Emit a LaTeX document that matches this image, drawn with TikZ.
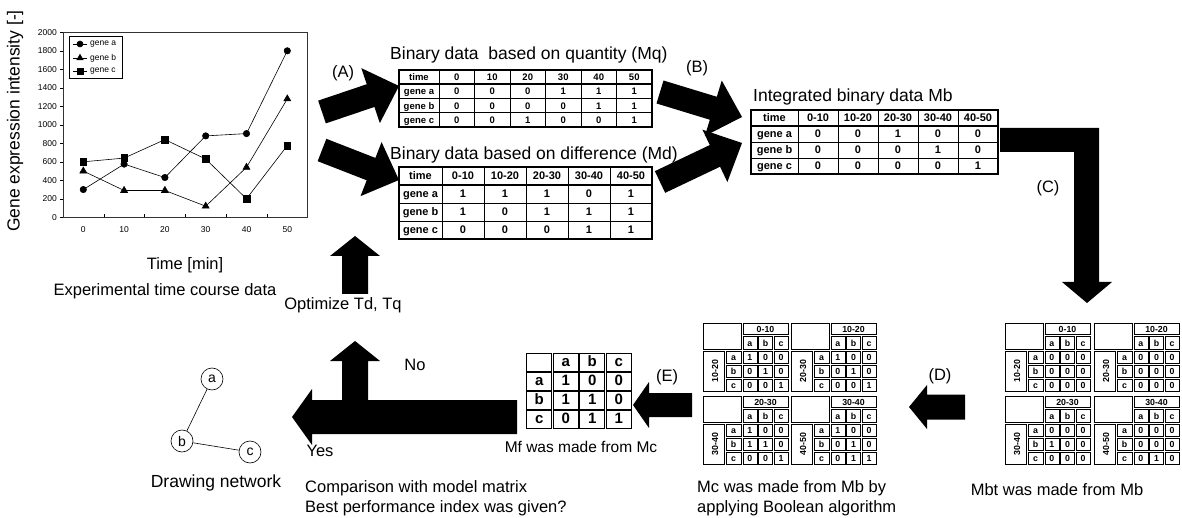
\documentclass[tikz,border=0pt]{standalone}
\usepackage{fontspec}
\setmainfont{Liberation Sans}
\usetikzlibrary{calc,plotmarks}
\tikzset{
  txt/.style={font=\fontsize{16.5}{20}\selectfont, inner sep=0pt},
  ttl/.style={font=\fontsize{17.5}{21}\selectfont, inner sep=0pt},
  tick/.style={font=\fontsize{8.5}{10}\selectfont, inner sep=0pt},
  plotline/.style={line width=0.6pt, black},
  tline/.style={line width=0.7pt},
  tframe/.style={line width=1.3pt},
  cellt/.style={inner sep=0pt, text height=0.72em, text depth=0pt},
  sc/.style={draw, line width=0.6pt},
  st/.style={font=\fontsize{8.8}{10}\selectfont\bfseries, inner sep=0pt, text height=0.72em, text depth=0pt},
  fc/.style={draw, line width=1.1pt},
  ft/.style={font=\fontsize{15}{17}\selectfont\bfseries, inner sep=0pt, text height=0.72em, text depth=0pt},
  gnode/.style={circle, draw, line width=0.6pt, minimum size=22pt, inner sep=0pt, font=\fontsize{14}{16}\selectfont},
}
% fat arrow: #1 name, #2 tail, #3 tip, #4 shaft half width, #5 head half width, #6 head length
\newcommand\fatarrow[6]{%
  \coordinate (#1-b) at ($(#3)!#6!(#2)$);
  \fill ($(#2)!#4!90:(#3)$) -- ($(#1-b)!#4!-90:(#2)$) -- ($(#1-b)!#5!-90:(#2)$) -- (#3)
     -- ($(#1-b)!#5!90:(#2)$) -- ($(#1-b)!#4!90:(#2)$) -- ($(#2)!#4!-90:(#3)$) -- cycle;
}
% binary table: #1 name, #2 x0, #3 y0, #4 first col w, #5 col w, #6 row h, #7 header list, #8 rows, #9 ncols
\newcommand\bintab[9]{%
  \begin{scope}[shift={(#2,#3)}]
    \draw[tframe] (0,0) rectangle ({#4+#5*#9},{4*#6});
    \draw[line width=1.6pt] (0,#6) -- ({#4+#5*#9},#6);
    \draw[tline] (0,{2*#6}) -- ({#4+#5*#9},{2*#6}) (0,{3*#6}) -- ({#4+#5*#9},{3*#6});
    \node[cellt] (#1-ht) at ({#4/2},{#6/2}) {time};
    \foreach \v [count=\k from 0] in {#7} {
      \draw[tline] ({#4+#5*\k},0) -- ({#4+#5*\k},{4*#6});
      \node[cellt] (#1-h\k) at ({#4+#5*\k+#5/2},{#6/2}) {\v};
    }
    \foreach \g/\vals [count=\r] in {#8} {
      \node[cellt] (#1-g\r) at ({#4/2},{#6*\r+#6/2}) {gene \g};
      \foreach \v [count=\k from 0] in \vals {
        \node[cellt] (#1-\r-\k) at ({#4+#5*\k+#5/2},{#6*\r+#6/2}) {\v};
      }
    }
  \end{scope}}
% sub table: #1 name, #2 x0, #3 y0, #4 col head, #5 row head, #6-#8 rows
\newcommand\subtab[8]{%
  \begin{scope}[shift={(#2,#3)}]
    \draw[sc] (0.8,0.8) rectangle (39.2,27.2);
    \draw[sc] (40.8,0.8) rectangle (86.2,12.2);
    \node[st] (#1-ch) at (63.5,6.5) {#4};
    \draw[sc] (0.8,28.8) rectangle (22.2,69.2);
    \node[st, rotate=90] (#1-rh) at (12.5,49) {#5};
    \foreach \l [count=\k from 0] in {a,b,c} {
      \draw[sc] ({40+15.667*\k+0.8},13.8) rectangle ({55.667+15.667*\k-0.8},27.2);
      \node[st] (#1-c\k) at ({47.83+15.667*\k},20.5) {\l};
      \draw[sc] (23.8,{28+14*\k+0.8}) rectangle (39.2,{42+14*\k-0.8});
      \node[st] (#1-r\k) at (31.5,{35+14*\k}) {\l};
    }
    \foreach \vals [count=\r from 0] in {{#6},{#7},{#8}} {
      \foreach \v [count=\k from 0] in \vals {
        \draw[sc] ({40+15.667*\k+0.8},{28+14*\r+0.8}) rectangle ({55.667+15.667*\k-0.8},{42+14*\r-0.8});
        \node[st] (#1-\r-\k) at ({47.83+15.667*\k},{35+14*\r}) {\v};
      }
    }
  \end{scope}}
\begin{document}
\begin{tikzpicture}[x=1pt,y=-1pt]
\useasboundingbox[fill=white] (0,0) rectangle (1182,518);

% ---------------- chart ----------------
\draw[line width=0.6pt, black!80] (63,32) rectangle (307,217.3);
\foreach \v [count=\i from 0] in {0,200,...,2000} {
  \node[tick, anchor=east] (yt\i) at (57,{217.3-0.0925*\v}) {\v};
  \draw[line width=0.5pt] (60,{217.3-0.0925*\v}) -- (63,{217.3-0.0925*\v});
}
\foreach \v [count=\i from 0] in {0,10,...,50} {
  \node[tick] (xt\i) at ({83.3+40.8*\i},230) {\v};
}
\foreach \i in {1,...,5} {\draw[line width=0.5pt] ({63+40.8*\i},217.3) -- ({63+40.8*\i},214);}
\draw[plotline] plot[mark=*, mark size=3.2pt] coordinates {(83.3,189.55) (124.1,164.11) (164.9,177.53) (205.7,135.9) (246.5,133.59) (287.3,50.8)};
\draw[plotline] plot[mark=triangle*, mark size=4pt, mark options={fill=black}] coordinates {(83.3,171.05) (124.1,190.48) (164.9,190.48) (205.7,206.2) (246.5,167.35) (287.3,98.9)};
\draw[plotline] plot[mark=square*, mark size=3.3pt, mark options={fill=black}] coordinates {(83.3,161.8) (124.1,158.1) (164.9,139.6) (205.7,159.03) (246.5,198.8) (287.3,145.61)};
% legend
\draw[line width=0.5pt, fill=white] (69,36) rectangle (122,78);
\draw[plotline] (73,44) -- (87,44) (73,58) -- (87,58) (73,71) -- (87,71);
\path[plotline] plot[mark=*, mark size=3pt] coordinates {(80,44)};
\path[plotline] plot[mark=triangle*, mark size=3.6pt, mark options={fill=black}] coordinates {(80,58)};
\path[plotline] plot[mark=square*, mark size=3pt, mark options={fill=black}] coordinates {(80,71)};
\node[tick, anchor=west] (lga) at (90,44) {gene a};
\node[tick, anchor=west] (lgb) at (90,58) {gene b};
\node[tick, anchor=west] (lgc) at (90,71) {gene c};
\node[ttl, rotate=90] (ylab) at (15,121) {Gene expression intensity [-]};
\node[txt] (xlab) at (185,265) {Time [min]};
\node[txt] (exp) at (165,291) {Experimental time course data};

% ---------------- top tables ----------------
\node[ttl, anchor=west] (tq) at (390,55) {Binary data\ \ based on quantity (Mq)};
\begin{scope}[font=\fontsize{9.5}{11}\selectfont\bfseries]
\bintab{mq}{399}{70}{40}{35.5}{14.25}{0,10,20,30,40,50}{a/{0,0,0,1,1,1},b/{0,0,0,0,1,1},c/{0,0,1,0,0,1}}{6}
\end{scope}
\node[ttl, anchor=west] (td) at (390,155) {Binary data based on difference (Md)};
\begin{scope}[font=\fontsize{11}{13}\selectfont\bfseries]
\bintab{md}{399}{167}{43}{42}{18}{0-10,10-20,20-30,30-40,40-50}{a/{1,1,1,0,1},b/{1,0,1,1,1},c/{0,0,0,1,1}}{5}
\end{scope}
\node[ttl, anchor=west] (tb) at (753,97) {Integrated binary data Mb};
\begin{scope}[font=\fontsize{11}{13}\selectfont\bfseries]
\bintab{mb}{751}{110}{47}{40}{16}{0-10,10-20,20-30,30-40,40-50}{a/{0,0,1,0,0},b/{0,0,0,1,0},c/{0,0,0,0,1}}{5}
\end{scope}

% ---------------- arrows ----------------
\coordinate (a1t) at (322,112); \coordinate (a1h) at (399,86);
\fatarrow{arA1}{a1t}{a1h}{12pt}{29pt}{30pt}
\coordinate (a2t) at (322,150); \coordinate (a2h) at (399,180);
\fatarrow{arA2}{a2t}{a2h}{12pt}{29pt}{30pt}
\coordinate (b1t) at (660,92); \coordinate (b1h) at (742,117);
\fatarrow{arB1}{b1t}{b1h}{12pt}{29pt}{30pt}
\coordinate (b2t) at (660,182); \coordinate (b2h) at (742,143);
\fatarrow{arB2}{b2t}{b2h}{12pt}{29pt}{30pt}
\fill (1000,128) -- (1099,128) -- (1099,282) -- (1112,282) -- (1087,303) -- (1062,282) -- (1074,282) -- (1074,152) -- (1000,152) -- cycle;
\coordinate (dt) at (965,407); \coordinate (dh) at (909,407);
\fatarrow{arD}{dt}{dh}{12.5pt}{22pt}{18pt}
\coordinate (et) at (692,405); \coordinate (eh) at (633,405);
\fatarrow{arE}{et}{eh}{12pt}{23pt}{16pt}
\coordinate (yt) at (517,417); \coordinate (yh) at (292,417);
\fatarrow{arY}{yt}{yh}{17pt}{28pt}{20pt}
\coordinate (nt) at (355,418); \coordinate (nh) at (355,341);
\fatarrow{arN}{nt}{nh}{13pt}{25pt}{20pt}
\coordinate (ot) at (355,294); \coordinate (oh) at (355,236);
\fatarrow{arO}{ot}{oh}{13pt}{25pt}{20pt}

\node[txt] (lA) at (343,73) {(A)};
\node[txt] (lB) at (697,68) {(B)};
\node[txt] (lC) at (1048,188) {(C)};
\node[txt] (lD) at (940,376) {(D)};
\node[txt] (lE) at (667,377) {(E)};
\node[txt] (opt) at (343,305) {Optimize Td, Tq};
\node[txt] (no) at (415,365) {No};
\node[txt] (yes) at (320,451) {Yes};

% ---------------- Mbt ----------------
\subtab{bt1}{1004}{322}{0-10}{10-20}{0,0,0}{0,0,0}{0,0,0}
\subtab{bt2}{1093}{322}{10-20}{20-30}{0,0,0}{0,0,0}{0,0,0}
\subtab{bt3}{1004}{395}{20-30}{30-40}{0,0,0}{1,0,0}{0,0,0}
\subtab{bt4}{1093}{395}{30-40}{40-50}{0,0,0}{0,0,0}{0,1,0}
\node[txt] (tbt) at (1057,490) {Mbt was made from Mb};

% ---------------- Mc ----------------
\subtab{c1}{702}{322}{0-10}{10-20}{1,0,0}{0,1,0}{0,0,1}
\subtab{c2}{790}{322}{10-20}{20-30}{1,0,0}{0,1,0}{0,0,1}
\subtab{c3}{702}{395}{20-30}{30-40}{1,0,0}{1,1,0}{0,0,1}
\subtab{c4}{790}{395}{30-40}{40-50}{1,0,0}{0,1,0}{0,1,1}
\node[txt, anchor=north west, align=left] (tc) at (697,480) {Mc was made from Mb by\\applying Boolean algorithm};

% ---------------- Mf ----------------
\begin{scope}[shift={(526,353)}]
\foreach \rowv [count=\r from 0] in {{{},a,b,c},{a,1,0,0},{b,1,1,0},{c,0,1,1}} {
  \foreach \v [count=\k from 0] in \rowv {
    \draw[fc] ({26.5*\k+0.9},{19*\r+0.9}) rectangle ({26.5*\k+25.6},{19*\r+18.1});
    \node[ft] (mf-\r-\k) at ({26.5*\k+13.25},{19*\r+9.5}) {\v};
  }
}
\end{scope}
\node[font=\fontsize{15.5}{18}\selectfont, inner sep=0pt] (tf) at (581,447) {Mf was made from Mc};

% ---------------- network ----------------
\node[gnode] (na) at (212,379) {a};
\node[gnode] (nb) at (182,441) {b};
\node[gnode] (nc) at (250,452) {c};
\draw[line width=0.6pt] (na) -- (nb) (nb) -- (nc);
\node[ttl] (dn) at (216,483) {Drawing network};
\node[txt, anchor=north west, align=left] (cmp) at (305,480) {Comparison with model matrix\\Best performance index was given?};
\end{tikzpicture}
\end{document}
